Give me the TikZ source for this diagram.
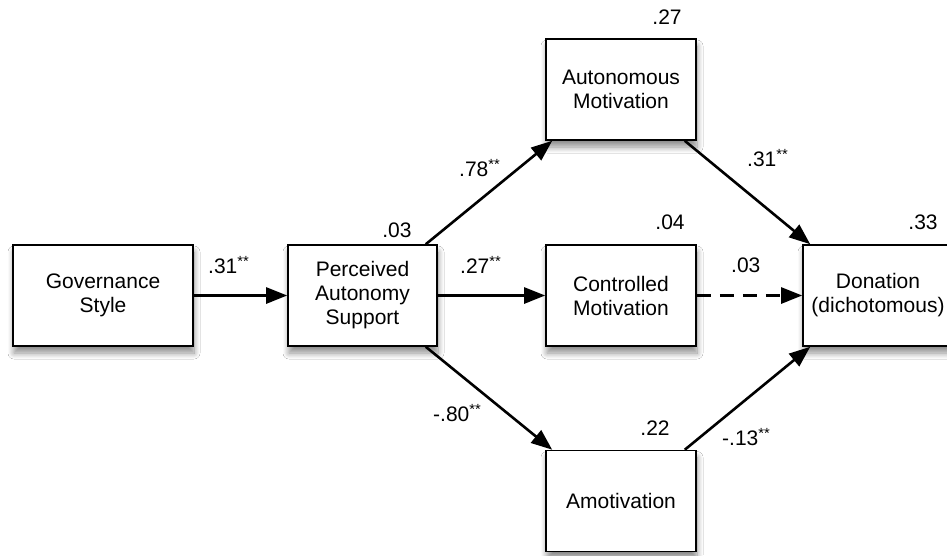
\documentclass[tikz,border=0pt]{standalone}
\usepackage{fontspec}
\setmainfont{Liberation Sans}
\usetikzlibrary{arrows.meta,shadows.blur}
\begin{document}
\begin{tikzpicture}[x=1pt,y=-1pt,
  box/.style={draw=black, line width=1.6pt, fill=white, minimum width=150pt, minimum height=101pt,
    align=center, font=\fontsize{21}{24}\selectfont, inner sep=2pt,
    blur shadow={shadow xshift=1pt, shadow yshift=-7pt, shadow opacity=45, shadow blur steps=10, shadow blur radius=6pt}},
  conn/.style={line width=2.6pt, -{Triangle[length=21pt,width=16pt]}, shorten >=0pt},
  lab/.style={font=\fontsize{21}{24}\selectfont, inner sep=0pt}
]
\useasboundingbox[fill=white] (0,0) rectangle (947,555);
\node[box, minimum width=180pt] (gs) at (103,295.5) {Governance\\Style};
\node[box, minimum width=149pt] (pas) at (362.5,295.5) {Perceived\\Autonomy\\Support};
\node[box] (am) at (621,89.5) {Autonomous\\Motivation};
\node[box] (cm) at (621,295.5) {Controlled\\Motivation};
\node[box] (amo) at (621,501) {Amotivation};
\node[box] (don) at (878,295.5) {Donation\\(dichotomous)};
% R squared
\node[lab] (r1) at (397,230) {.03};
\node[lab] (r2) at (667,17) {.27};
\node[lab] (r3) at (670,222) {.04};
\node[lab] (r4) at (655,428) {.22};
\node[lab] (r5) at (923,222) {.33};
% connectors
\draw[conn] (gs.east) -- (pas.west);
\draw[conn] ([xshift=-12pt]pas.north east) -- ([xshift=7pt]am.south west);
\draw[conn] (pas.east) -- (cm.west);
\draw[conn] ([xshift=-12pt]pas.south east) -- ([xshift=7pt]amo.north west);
\draw[conn] ([xshift=-12pt]am.south east) -- ([xshift=8pt]don.north west);
\draw[conn, dash pattern=on 14pt off 9pt] (cm.east) -- (don.west);
\draw[conn] ([xshift=-12pt]amo.north east) -- ([xshift=8pt]don.south west);
% path coefficients
\node[lab, anchor=west] (c1) at (208,265) {.31\textsuperscript{**}};
\node[lab, anchor=west] (c2) at (459,168) {.78\textsuperscript{**}};
\node[lab, anchor=west] (c3) at (460,265) {.27\textsuperscript{**}};
\node[lab, anchor=west] (c4) at (433,413) {-.80\textsuperscript{**}};
\node[lab, anchor=west] (c5) at (747,158) {.31\textsuperscript{**}};
\node[lab, anchor=west] (c6) at (731,265) {.03};
\node[lab, anchor=west] (c7) at (722,437) {-.13\textsuperscript{**}};
\end{tikzpicture}
\end{document}
